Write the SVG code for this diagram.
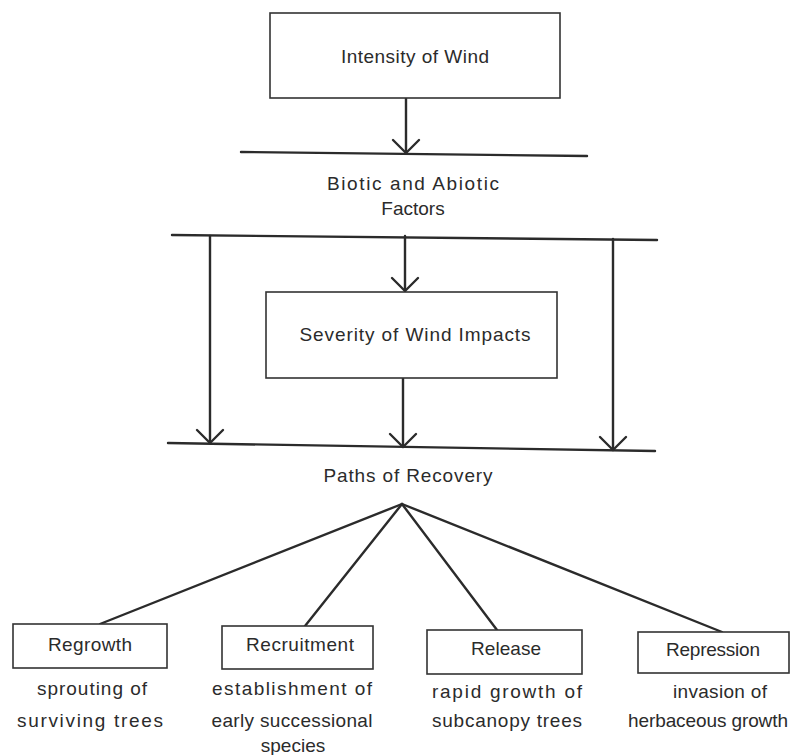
<svg xmlns="http://www.w3.org/2000/svg" width="808" height="755" viewBox="0 0 808 755">
<defs>
<style>
.box{fill:#fff;stroke:#333;stroke-width:1.6}
.ln{fill:none;stroke:#2b2b2b;stroke-width:2.4;stroke-linecap:round}
.t{font-family:"Liberation Sans",Arial,sans-serif;font-size:19px;fill:#2b2b2b;text-anchor:middle}
</style>
<marker id="vh" markerUnits="userSpaceOnUse" viewBox="-16 -16 32 32" markerWidth="32" markerHeight="32" refX="0" refY="0" orient="auto" overflow="visible">
<path d="M-13,-13 L0,0 L-13,13" fill="none" stroke="#2b2b2b" stroke-width="2.4" stroke-linecap="round" stroke-linejoin="round"/>
</marker>
</defs>
<rect width="808" height="755" fill="#fff"/>

<g id="connectors">
<line class="ln" x1="406" y1="98" x2="406" y2="153" marker-end="url(#vh)"/>
<line class="ln" x1="241" y1="152" x2="587" y2="156"/>
<line class="ln" x1="172" y1="235" x2="657" y2="240"/>
<line class="ln" x1="405" y1="236" x2="405" y2="291" marker-end="url(#vh)"/>
<line class="ln" x1="210" y1="236" x2="210" y2="443" marker-end="url(#vh)"/>
<line class="ln" x1="403" y1="378" x2="403" y2="447" marker-end="url(#vh)"/>
<line class="ln" x1="613" y1="239" x2="613" y2="450" marker-end="url(#vh)"/>
<line class="ln" x1="168" y1="443" x2="655" y2="451"/>
<line class="ln" x1="402" y1="504" x2="100" y2="624"/>
<line class="ln" x1="402" y1="504" x2="305" y2="626"/>
<line class="ln" x1="402" y1="504" x2="497" y2="630"/>
<line class="ln" x1="402" y1="504" x2="722" y2="632"/>
</g>

<g id="intensity">
<rect class="box" x="270" y="13" width="290" height="85"/>
<text class="t" x="415" y="63" textLength="148" lengthAdjust="spacing">Intensity of Wind</text>
</g>

<g id="factors">
<text class="t" x="413" y="190" textLength="172" lengthAdjust="spacing">Biotic and Abiotic</text>
<text class="t" x="413" y="215">Factors</text>
</g>

<g id="severity">
<rect class="box" x="266" y="292" width="291" height="86"/>
<text class="t" x="415" y="341" textLength="231" lengthAdjust="spacing">Severity of Wind Impacts</text>
</g>

<g id="paths">
<text class="t" x="408" y="482" textLength="169" lengthAdjust="spacing">Paths of Recovery</text>
</g>

<g id="regrowth">
<rect class="box" x="13" y="624" width="154" height="44"/>
<text class="t" x="90" y="651" textLength="84" lengthAdjust="spacing">Regrowth</text>
<text class="t" x="92" y="695" textLength="110" lengthAdjust="spacing">sprouting of</text>
<text class="t" x="90" y="727" textLength="146" lengthAdjust="spacing">surviving trees</text>
</g>

<g id="recruitment">
<rect class="box" x="222" y="626" width="151" height="43"/>
<text class="t" x="300" y="651" textLength="108" lengthAdjust="spacing">Recruitment</text>
<text class="t" x="292" y="695" textLength="160" lengthAdjust="spacing">establishment of</text>
<text class="t" x="292" y="727" textLength="161" lengthAdjust="spacing">early successional</text>
<text class="t" x="293" y="752">species</text>
</g>

<g id="release">
<rect class="box" x="427" y="630" width="155" height="44"/>
<text class="t" x="506" y="655" textLength="70" lengthAdjust="spacing">Release</text>
<text class="t" x="507" y="698" textLength="150" lengthAdjust="spacing">rapid growth of</text>
<text class="t" x="507" y="727" textLength="150" lengthAdjust="spacing">subcanopy trees</text>
</g>

<g id="repression">
<rect class="box" x="638" y="632" width="151" height="41"/>
<text class="t" x="713" y="656" textLength="94" lengthAdjust="spacing">Repression</text>
<text class="t" x="720" y="698" textLength="94" lengthAdjust="spacing">invasion of</text>
<text class="t" x="708" y="727" textLength="160" lengthAdjust="spacing">herbaceous growth</text>
</g>
</svg>
